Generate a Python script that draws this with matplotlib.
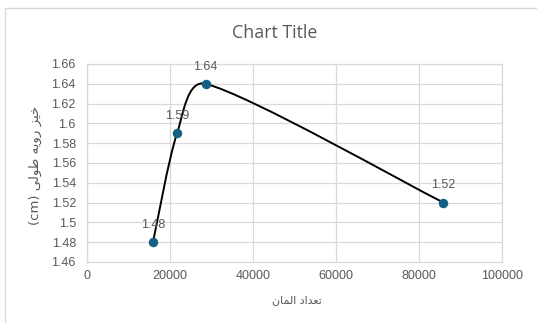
import numpy as np
import matplotlib
matplotlib.use("Agg")
import matplotlib.pyplot as plt
from matplotlib.path import Path
from matplotlib.patches import PathPatch, Rectangle

# mesh size study: number of elements vs deflection
elements = [15900, 21700, 28600, 85900]
deflection = [1.48, 1.59, 1.64, 1.52]

x_ticks = [0, 20000, 40000, 60000, 80000, 100000]
y_ticks = [1.46, 1.48, 1.50, 1.52, 1.54, 1.56, 1.58, 1.60, 1.62, 1.64, 1.66]
y_tick_labels = ["1.46", "1.48", "1.5", "1.52", "1.54", "1.56", "1.58", "1.6", "1.62", "1.64", "1.66"]

# Persian labels written in presentation forms, visual (left-to-right) order
x_label = "\uFEE5\uFE8E\uFEE4\uFEDF\uFE8D \uFEA9\uFE8D\uFEAA\uFECC\uFE97"          # تعداد المان
y_label = "(cm) \uFEF0\uFEDF\uFEEE\uFEC3 \uFEEA\uFEF3\uFEED\uFEAD \uFEB0\uFEF4\uFEA7"  # خیز رویه طولی (cm)

grey = "#595959"
grid = "#d9d9d9"
marker_col = "#156082"
num_font = "Liberation Sans"

fig = plt.figure(figsize=(5.37, 3.23), dpi=100)
fig.patches.append(Rectangle((5 / 537, -0.1), 1.1, 1.1 - 8 / 323, transform=fig.transFigure,
                             fill=False, edgecolor=grid, lw=1.0))
ax = fig.add_axes([87 / 537, 1 - 262 / 323, 415 / 537, 198 / 323])

ax.set_xlim(0, 100000)
ax.set_ylim(1.46, 1.66)
ax.set_xticks(x_ticks)
ax.set_xticklabels([str(t) for t in x_ticks], fontsize=9, color=grey, family=num_font)
ax.set_yticks(y_ticks)
ax.set_yticklabels(y_tick_labels, fontsize=9, color=grey, family=num_font)
ax.tick_params(axis="y", length=0, pad=8)
ax.tick_params(axis="x", length=0, pad=6)
ax.grid(True, color=grid, lw=0.9)
ax.set_axisbelow(True)
for s in ax.spines.values():
    s.set_color(grid)
    s.set_linewidth(0.9)

# smoothed line: bezier through the points, tangent along neighbours,
# arm length capped at a third of the segment (worked out in pixel space)
W, H = 415.0, 198.0
px = np.array(elements) / 100000 * W
py = (np.array(deflection) - 1.46) / 0.2 * H
pts = np.column_stack([px, py])
n = len(pts)


def arm(i, seg_len, sign):
    t = pts[min(i + 1, n - 1)] - pts[max(i - 1, 0)]
    v = t / 6
    L = np.hypot(*v)
    cap = seg_len / 3
    if L > cap:
        v = v / L * cap
    return pts[i] + sign * v


verts = [pts[0]]
codes = [Path.MOVETO]
for i in range(n - 1):
    seg = np.hypot(*(pts[i + 1] - pts[i]))
    verts += [arm(i, seg, 1), arm(i + 1, seg, -1), pts[i + 1]]
    codes += [Path.CURVE4] * 3
verts = np.array(verts)
verts[:, 0] = verts[:, 0] / W * 100000
verts[:, 1] = verts[:, 1] / H * 0.2 + 1.46
ax.add_patch(PathPatch(Path(verts, codes), fill=False, edgecolor="black", lw=1.4, zorder=3))

ax.plot(elements, deflection, "o", color=marker_col, markersize=5.8, zorder=4)
for xv, yv in zip(elements, deflection):
    ax.annotate(f"{yv:.2f}", (xv, yv), xytext=(0, 8), textcoords="offset points",
                ha="center", va="bottom", fontsize=9, color=grey, family=num_font)

fig.text(275 / 537, 1 - 33 / 323, "Chart Title", ha="center", va="center",
         fontsize=12.8, color=grey, family="Open Sans")
fig.text(297 / 537, 1 - 300 / 323, x_label, ha="center", va="center",
         fontsize=8, color=grey, family="DejaVu Sans")
fig.text(35 / 537, 1 - 165 / 323, y_label, ha="center", va="center", rotation=90,
         fontsize=9.5, color=grey, family="DejaVu Sans")

fig.savefig("out.png", dpi=100)
